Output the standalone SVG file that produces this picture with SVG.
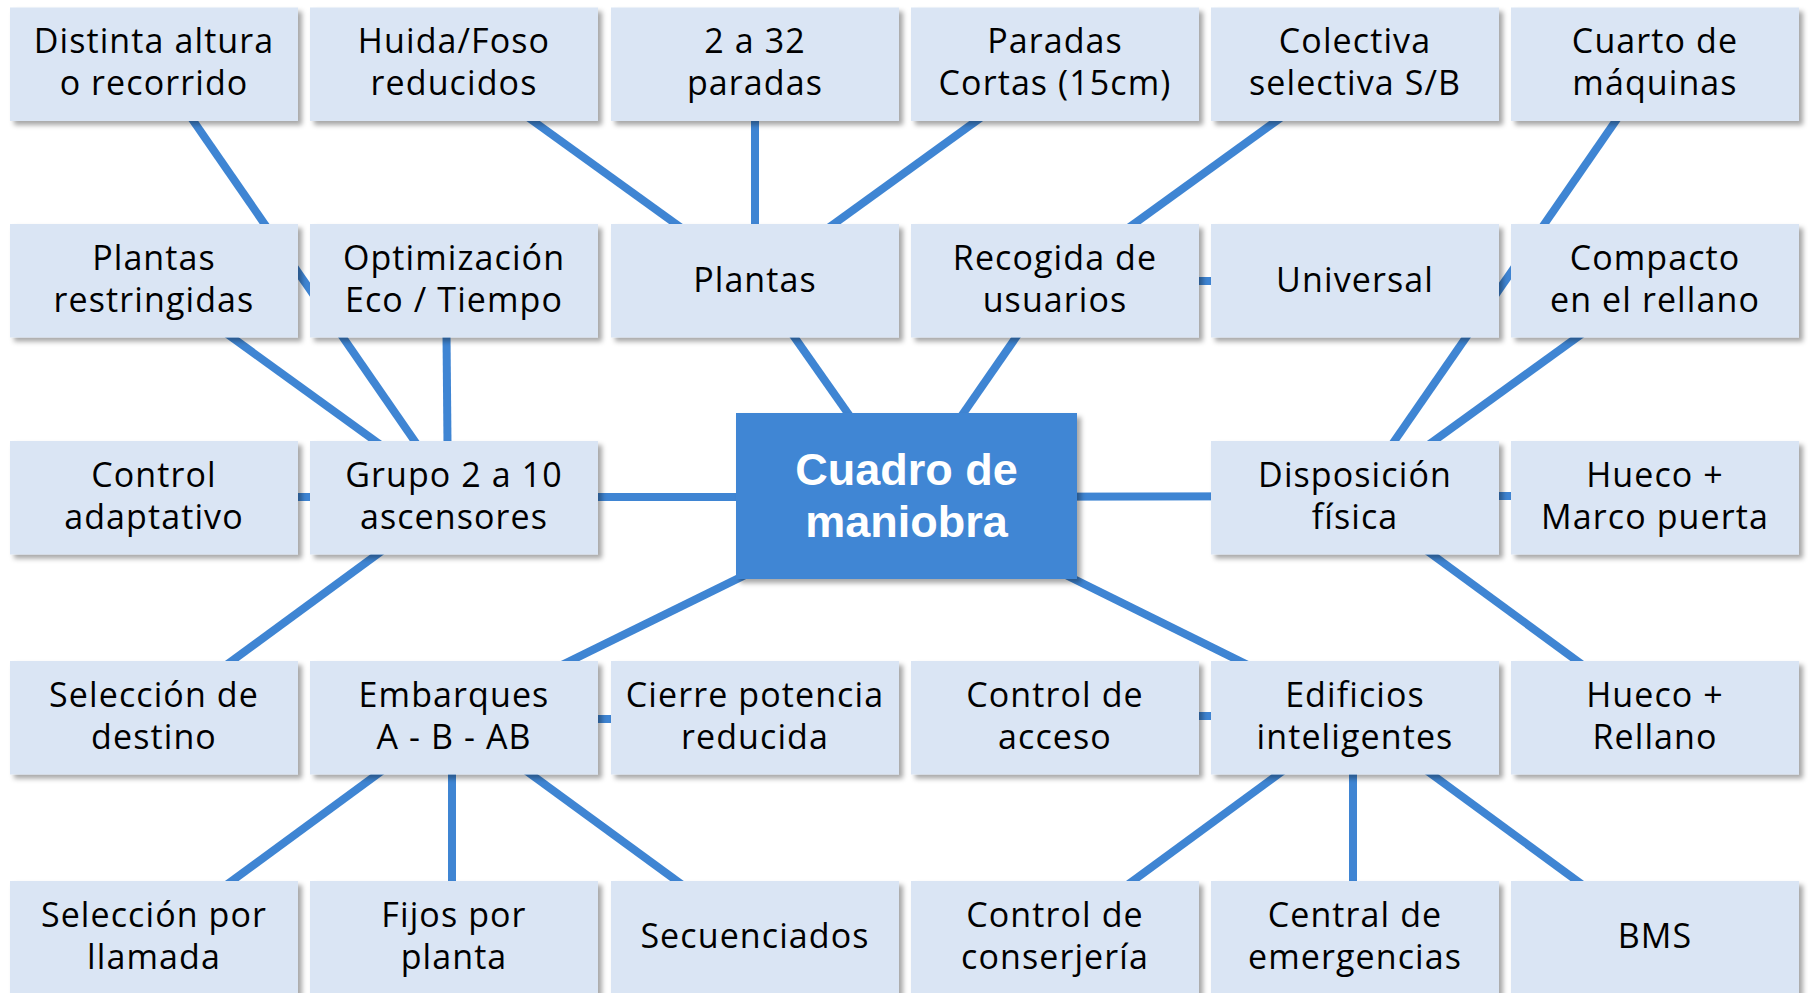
<svg xmlns="http://www.w3.org/2000/svg" width="1808" height="993" viewBox="0 0 1808 993">
<defs>
<filter id="sh" x="-10%" y="-10%" width="125%" height="130%">
<feDropShadow dx="4" dy="4" stdDeviation="2.5" flood-color="#000" flood-opacity="0.35"/>
</filter>
<style>
.n rect{fill:#DAE5F4;filter:url(#sh)}
.n text{font-family:"Open Sans","Liberation Sans",sans-serif;font-size:34px;letter-spacing:1.1px;fill:#000;text-anchor:middle}
.c rect{fill:#4186D4;filter:url(#sh)}
.c text{font-family:"Liberation Sans","Open Sans",sans-serif;font-size:45px;font-weight:bold;fill:#fff;text-anchor:middle}
#edges line{stroke:#3F85D3;stroke-width:8}
</style>
</defs>
<rect width="1808" height="993" fill="#fff"/>
<g id="edges">
<line x1="154" y1="64" x2="454" y2="498"/>
<line x1="454" y1="64" x2="755" y2="281"/>
<line x1="755" y1="64" x2="755" y2="281"/>
<line x1="1055" y1="64" x2="755" y2="281"/>
<line x1="1355" y1="64" x2="1055" y2="281"/>
<line x1="1655" y1="64" x2="1355" y2="498"/>
<line x1="154" y1="281" x2="454" y2="498"/>
<line x1="446" y1="281" x2="448" y2="498"/>
<line x1="755" y1="281" x2="906" y2="496"/>
<line x1="1055" y1="281" x2="906" y2="496"/>
<line x1="1355" y1="281" x2="1055" y2="281"/>
<line x1="1655" y1="281" x2="1355" y2="498"/>
<line x1="154" y1="497" x2="454" y2="497"/>
<line x1="454" y1="497" x2="906" y2="497"/>
<line x1="906" y1="497" x2="1355" y2="496"/>
<line x1="1655" y1="496" x2="1355" y2="496"/>
<line x1="154" y1="718" x2="454" y2="498"/>
<line x1="454" y1="718" x2="906" y2="496"/>
<line x1="1355" y1="718" x2="906" y2="496"/>
<line x1="1655" y1="718" x2="1355" y2="498"/>
<line x1="755" y1="719" x2="454" y2="719"/>
<line x1="1055" y1="716" x2="1355" y2="716"/>
<line x1="154" y1="938" x2="454" y2="718"/>
<line x1="452" y1="938" x2="452" y2="718"/>
<line x1="755" y1="938" x2="454" y2="718"/>
<line x1="1055" y1="938" x2="1355" y2="718"/>
<line x1="1353" y1="938" x2="1353" y2="718"/>
<line x1="1655" y1="938" x2="1355" y2="718"/>
</g>
<g id="n1" class="n"><rect x="10" y="7.5" width="288" height="113.5"/><text x="154" y="53">Distinta altura</text><text x="154" y="95">o recorrido</text></g>
<g id="n2" class="n"><rect x="310" y="7.5" width="288" height="113.5"/><text x="454" y="53">Huida/Foso</text><text x="454" y="95">reducidos</text></g>
<g id="n3" class="n"><rect x="611" y="7.5" width="288" height="113.5"/><text x="755" y="53">2 a 32</text><text x="755" y="95">paradas</text></g>
<g id="n4" class="n"><rect x="911" y="7.5" width="288" height="113.5"/><text x="1055" y="53">Paradas</text><text x="1055" y="95">Cortas (15cm)</text></g>
<g id="n5" class="n"><rect x="1211" y="7.5" width="288" height="113.5"/><text x="1355" y="53">Colectiva</text><text x="1355" y="95">selectiva S/B</text></g>
<g id="n6" class="n"><rect x="1511" y="7.5" width="288" height="113.5"/><text x="1655" y="53">Cuarto de</text><text x="1655" y="95">máquinas</text></g>
<g id="n7" class="n"><rect x="10" y="224" width="288" height="113.5"/><text x="154" y="269.5">Plantas</text><text x="154" y="311.5">restringidas</text></g>
<g id="n8" class="n"><rect x="310" y="224" width="288" height="113.5"/><text x="454" y="269.5">Optimización</text><text x="454" y="311.5">Eco / Tiempo</text></g>
<g id="n9" class="n"><rect x="611" y="224" width="288" height="113.5"/><text x="755" y="292">Plantas</text></g>
<g id="n10" class="n"><rect x="911" y="224" width="288" height="113.5"/><text x="1055" y="269.5">Recogida de</text><text x="1055" y="311.5">usuarios</text></g>
<g id="n11" class="n"><rect x="1211" y="224" width="288" height="113.5"/><text x="1355" y="292">Universal</text></g>
<g id="n12" class="n"><rect x="1511" y="224" width="288" height="113.5"/><text x="1655" y="269.5">Compacto</text><text x="1655" y="311.5">en el rellano</text></g>
<g id="n13" class="n"><rect x="10" y="441" width="288" height="113.5"/><text x="154" y="486.5">Control</text><text x="154" y="528.5">adaptativo</text></g>
<g id="n14" class="n"><rect x="310" y="441" width="288" height="113.5"/><text x="454" y="486.5">Grupo 2 a 10</text><text x="454" y="528.5">ascensores</text></g>
<g id="center" class="c"><rect x="736" y="413" width="341" height="166"/><text x="906.5" y="484.5">Cuadro de</text><text x="906.5" y="537">maniobra</text></g>
<g id="n15" class="n"><rect x="1211" y="441" width="288" height="113.5"/><text x="1355" y="486.5">Disposición</text><text x="1355" y="528.5">física</text></g>
<g id="n16" class="n"><rect x="1511" y="441" width="288" height="113.5"/><text x="1655" y="486.5">Hueco +</text><text x="1655" y="528.5">Marco puerta</text></g>
<g id="n17" class="n"><rect x="10" y="661" width="288" height="113.5"/><text x="154" y="706.5">Selección de</text><text x="154" y="748.5">destino</text></g>
<g id="n18" class="n"><rect x="310" y="661" width="288" height="113.5"/><text x="454" y="706.5">Embarques</text><text x="454" y="748.5">A - B - AB</text></g>
<g id="n19" class="n"><rect x="611" y="661" width="288" height="113.5"/><text x="755" y="706.5">Cierre potencia</text><text x="755" y="748.5">reducida</text></g>
<g id="n20" class="n"><rect x="911" y="661" width="288" height="113.5"/><text x="1055" y="706.5">Control de</text><text x="1055" y="748.5">acceso</text></g>
<g id="n21" class="n"><rect x="1211" y="661" width="288" height="113.5"/><text x="1355" y="706.5">Edificios</text><text x="1355" y="748.5">inteligentes</text></g>
<g id="n22" class="n"><rect x="1511" y="661" width="288" height="113.5"/><text x="1655" y="706.5">Hueco +</text><text x="1655" y="748.5">Rellano</text></g>
<g id="n23" class="n"><rect x="10" y="881" width="288" height="113.5"/><text x="154" y="926.5">Selección por</text><text x="154" y="968.5">llamada</text></g>
<g id="n24" class="n"><rect x="310" y="881" width="288" height="113.5"/><text x="454" y="926.5">Fijos por</text><text x="454" y="968.5">planta</text></g>
<g id="n25" class="n"><rect x="611" y="881" width="288" height="113.5"/><text x="755" y="948">Secuenciados</text></g>
<g id="n26" class="n"><rect x="911" y="881" width="288" height="113.5"/><text x="1055" y="926.5">Control de</text><text x="1055" y="968.5">conserjería</text></g>
<g id="n27" class="n"><rect x="1211" y="881" width="288" height="113.5"/><text x="1355" y="926.5">Central de</text><text x="1355" y="968.5">emergencias</text></g>
<g id="n28" class="n"><rect x="1511" y="881" width="288" height="113.5"/><text x="1655" y="948">BMS</text></g>
</svg>
